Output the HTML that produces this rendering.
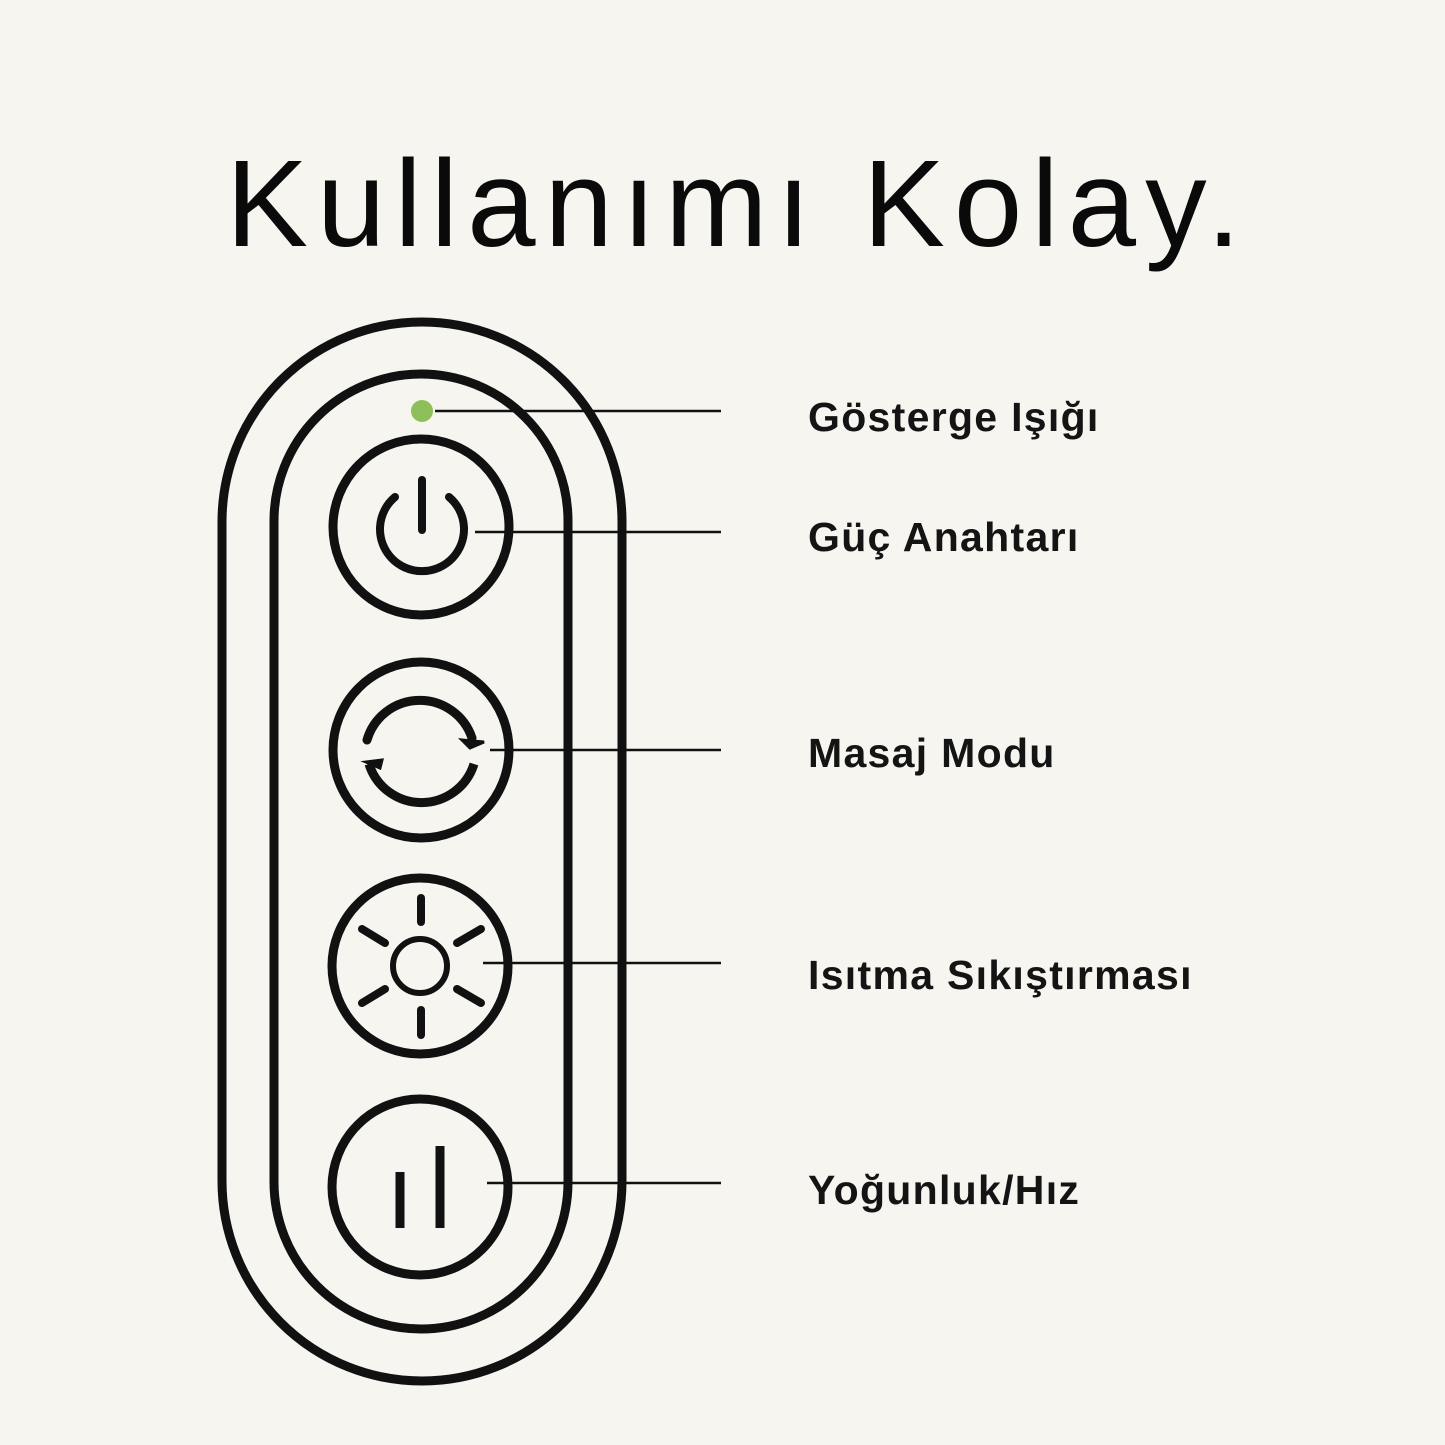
<!DOCTYPE html>
<html><head><meta charset="utf-8"><style>
body{margin:0;background:#f7f5f0;width:1445px;height:1445px;overflow:hidden;position:relative;font-family:"Liberation Sans",sans-serif}
.t{position:absolute;left:226px;top:143px;font-size:123px;letter-spacing:9px;color:#0a0a0a;white-space:nowrap;line-height:1}
.l{position:absolute;left:808px;font-size:41px;font-weight:bold;color:#141414;white-space:nowrap;line-height:1;letter-spacing:1.3px}
</style></head><body>
<div class="t">Kullanımı Kolay.</div>
<svg width="1445" height="1445" style="position:absolute;left:0;top:0" fill="none" stroke="#111" stroke-linecap="round">
<rect x="222" y="322" width="400" height="1059" rx="200" stroke-width="9"/>
<rect x="274" y="374" width="294" height="955" rx="147" stroke-width="9"/>
<circle cx="422" cy="411" r="11" fill="#8fbf5a" stroke="none"/>
<g stroke-width="9">
<circle cx="421" cy="527" r="88"/>
<circle cx="421" cy="750" r="88"/>
<circle cx="420" cy="966" r="88"/>
<circle cx="420" cy="1187" r="88"/>
</g>
<path d="M395 497 A42 42 0 1 0 449 497" stroke-width="8"/>
<line x1="422" y1="480" x2="422" y2="530" stroke-width="8"/>
<path d="M367 740 A55 55 0 0 1 472 738" stroke-width="9"/>
<path d="M474 764 A55 55 0 0 1 369 764" stroke-width="9" stroke-linecap="butt"/>
<path d="M462 740 L484 742 L470 748 Z" fill="#111" stroke-width="3"/>
<path d="M366 762 L382 760 L380 768 Z" fill="#111" stroke-width="3"/>
<circle cx="420" cy="966" r="27" stroke-width="6"/>
<g stroke-width="8">
<line x1="421" y1="898" x2="421" y2="922"/><line x1="421" y1="1010" x2="421" y2="1035"/>
<line x1="362" y1="929" x2="385" y2="943"/><line x1="457" y1="943" x2="481" y2="929"/>
<line x1="362" y1="1003" x2="385" y2="989"/><line x1="457" y1="989" x2="481" y2="1003"/>
</g>
<line x1="400" y1="1172" x2="400" y2="1228" stroke-width="9" stroke-linecap="butt"/>
<line x1="440" y1="1146" x2="440" y2="1228" stroke-width="9" stroke-linecap="butt"/>
<g stroke-width="2.5" stroke-linecap="butt">
<line x1="435" y1="411" x2="721" y2="411"/>
<line x1="475" y1="532" x2="721" y2="532"/>
<line x1="490" y1="750" x2="721" y2="750"/>
<line x1="483" y1="963" x2="721" y2="963"/>
<line x1="487" y1="1183" x2="721" y2="1183"/>
</g>
</svg>
<div class="l" style="top:397px">Gösterge Işığı</div>
<div class="l" style="top:517px">Güç Anahtarı</div>
<div class="l" style="top:733px">Masaj Modu</div>
<div class="l" style="top:955px">Isıtma Sıkıştırması</div>
<div class="l" style="top:1170px">Yoğunluk/Hız</div>
</body></html>
